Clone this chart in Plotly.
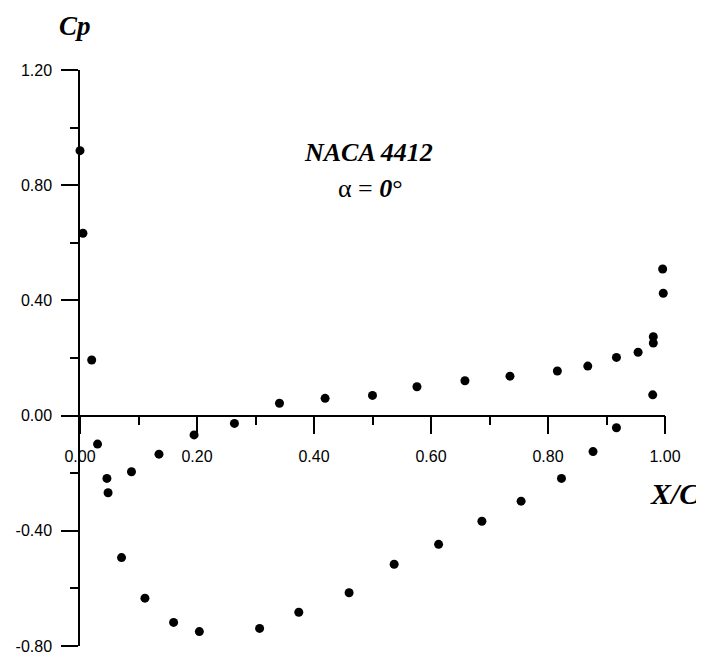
import plotly.graph_objects as go

# Pressure side (lower surface) incl. leading edge stagnation points
x_lower = [0.000, 0.005, 0.020, 0.341, 0.419, 0.500, 0.576, 0.658, 0.735, 0.816, 0.868, 0.917, 0.954, 0.980, 0.980, 0.996]
cp_lower = [0.92, 0.633, 0.193, 0.043, 0.060, 0.070, 0.100, 0.121, 0.137, 0.155, 0.172, 0.202, 0.220, 0.252, 0.274, 0.509]

# Suction side (upper surface)
x_upper = [0.030, 0.046, 0.048, 0.071, 0.088, 0.111, 0.135, 0.160, 0.195, 0.204, 0.264,
           0.307, 0.374, 0.460, 0.537, 0.613, 0.687, 0.754, 0.823, 0.877, 0.917, 0.979, 0.997]
cp_upper = [-0.099, -0.218, -0.268, -0.493, -0.195, -0.634, -0.134, -0.718, -0.067, -0.750, -0.027,
            -0.739, -0.683, -0.615, -0.516, -0.447, -0.367, -0.297, -0.218, -0.125, -0.042, 0.072, 0.425]

x_tickvals = [0.0, 0.2, 0.4, 0.6, 0.8, 1.0]
x_ticktext = ["0.00", "0.20", "0.40", "0.60", "0.80", "1.00"]
y_tickvals = [-0.8, -0.4, 0.0, 0.4, 0.8, 1.2]
y_ticktext = ["-0.80", "-0.40", "0.00", "0.40", "0.80", "1.20"]

fig = go.Figure()
fig.add_trace(go.Scatter(x=x_lower, y=cp_lower, mode="markers",
                         marker=dict(size=9, color="black"), cliponaxis=False, showlegend=False))
fig.add_trace(go.Scatter(x=x_upper, y=cp_upper, mode="markers",
                         marker=dict(size=9, color="black"), cliponaxis=False, showlegend=False))

tickfont = dict(family="Liberation Sans, Arial", size=16, color="black")
serif = "Liberation Serif, Times New Roman"

fig.update_layout(
    width=696, height=654,
    margin=dict(l=72, r=39, t=62, b=16),
    paper_bgcolor="white", plot_bgcolor="white",
    xaxis=dict(range=[0, 1], anchor="free", position=0.4, automargin=False,
               showline=True, linecolor="black", linewidth=1.5,
               showgrid=False, zeroline=False,
               ticks="outside", ticklen=18, tickwidth=1.5, tickcolor="black",
               tickvals=x_tickvals, ticktext=x_ticktext, tickfont=tickfont,
               ticklabelstandoff=8, ticklabeloverflow="allow",
               minor=dict(dtick=0.1, tick0=0, ticks="outside", ticklen=9, tickwidth=1.5, tickcolor="black")),
    yaxis=dict(range=[-0.8, 1.2], automargin=False,
               showline=True, linecolor="black", linewidth=1.5,
               showgrid=False, zeroline=False,
               ticks="outside", ticklen=17, tickwidth=1.5, tickcolor="black",
               tickvals=y_tickvals, ticktext=y_ticktext, tickfont=tickfont,
               ticklabelstandoff=6, ticklabeloverflow="allow",
               minor=dict(dtick=0.2, tick0=0, ticks="outside", ticklen=8, tickwidth=1.5, tickcolor="black")),
    annotations=[
        dict(text="<b><i>Cp</i></b>", x=-0.0094, y=1.076, xref="paper", yref="paper",
             xanchor="center", yanchor="middle",
             showarrow=False, font=dict(family=serif, size=27, color="black")),
        dict(text="<b><i>NACA 4412</i></b>", x=0.494, y=0.856, xref="paper", yref="paper",
             xanchor="center", yanchor="middle",
             showarrow=False, font=dict(family=serif, size=26, color="black")),
        dict(text="α = <b><i>0</i></b>°", x=0.497, y=0.795, xref="paper", yref="paper",
             xanchor="center", yanchor="middle",
             showarrow=False, font=dict(family=serif, size=26, color="black")),
        dict(text="<b><i>X/C</i></b>", x=1.017, y=0.264, xref="paper", yref="paper",
             xanchor="center", yanchor="middle",
             showarrow=False, font=dict(family=serif, size=30, color="black")),
    ],
)

fig.write_html("out.html")
